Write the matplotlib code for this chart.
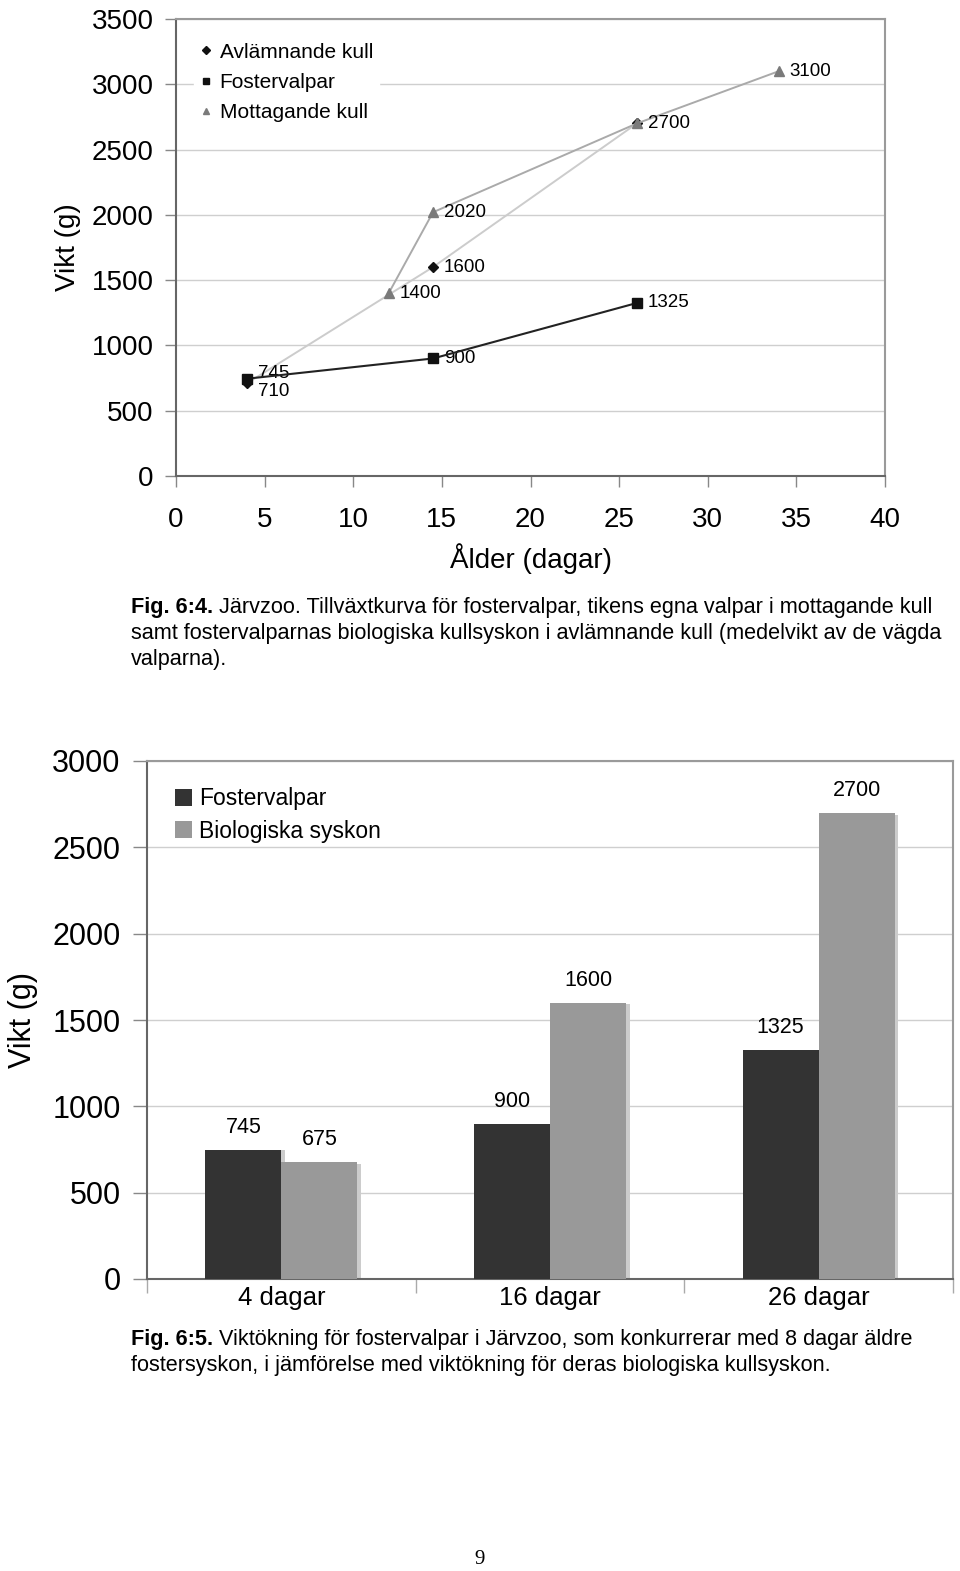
import matplotlib
matplotlib.use("Agg")
import matplotlib.pyplot as plt
from matplotlib.ticker import MultipleLocator, FixedLocator

plt.rcParams['font.family'] = ['Liberation Sans', 'DejaVu Sans']

# ---------- data: Fig 6:4 ----------
avl_days = [4, 14.5, 26]
avl_vals = [710, 1600, 2700]
fos_days = [4, 14.5, 26]
fos_vals = [745, 900, 1325]
mot_days = [12, 14.5, 26, 34]
mot_vals = [1400, 2020, 2700, 3100]
series_names = ["Avlämnande kull", "Fostervalpar", "Mottagande kull"]

# ---------- data: Fig 6:5 ----------
bar_cats = ["4 dagar", "16 dagar", "26 dagar"]
bar_foster = [745, 900, 1325]
bar_bio = [675, 1600, 2700]
bar_names = ["Fostervalpar", "Biologiska syskon"]

caption1 = [("Fig. 6:4.", " Järvzoo. Tillväxtkurva för fostervalpar, tikens egna valpar i mottagande kull"),
            ("", "samt fostervalparnas biologiska kullsyskon i avlämnande kull (medelvikt av de vägda"),
            ("", "valparna).")]
caption2 = [("Fig. 6:5.", " Viktökning för fostervalpar i Järvzoo, som konkurrerar med 8 dagar äldre"),
            ("", "fostersyskon, i jämförelse med viktökning för deras biologiska kullsyskon.")]

W, H = 960, 1571
fig = plt.figure(figsize=(W / 100, H / 100), dpi=100)

def fx(px):
    return px / W

def fy(py):
    return 1 - py / H

# ================= top chart =================
ax1 = fig.add_axes([fx(176), fy(476), fx(885 - 176), (476 - 19) / H])
ax1.set_xlim(0, 40)
ax1.set_ylim(0, 3500)
ax1.yaxis.set_major_locator(MultipleLocator(500))
ax1.xaxis.set_major_locator(MultipleLocator(5))
ax1.grid(axis='y', color='#cfcfcf', linewidth=1.0)
ax1.set_axisbelow(True)
for s in ['top', 'right']:
    ax1.spines[s].set_color('#9a9a9a')
    ax1.spines[s].set_linewidth(1.5)
for s in ['left', 'bottom']:
    ax1.spines[s].set_color('#666666')
    ax1.spines[s].set_linewidth(1.5)
ax1.tick_params(axis='both', labelsize=20, length=8, width=1, color='#888888', direction='out')
ax1.tick_params(axis='x', pad=14)
ax1.tick_params(axis='y', pad=8)

l_avl, = ax1.plot(avl_days, avl_vals, color='#cccccc', linewidth=1.4, marker='D',
                  markersize=5, markerfacecolor='#111111', markeredgecolor='#111111',
                  label=series_names[0], zorder=3)
l_fos, = ax1.plot(fos_days, fos_vals, color='#222222', linewidth=1.5, marker='s',
                  markersize=6.5, markerfacecolor='#111111', markeredgecolor='#111111',
                  label=series_names[1], zorder=4)
l_mot, = ax1.plot(mot_days, mot_vals, color='#aaaaaa', linewidth=1.4, marker='^',
                  markersize=7, markerfacecolor='#7a7a7a', markeredgecolor='#7a7a7a',
                  label=series_names[2], zorder=3)

for d, v, dy in zip(avl_days, avl_vals, [-6, 0, 0]):
    ax1.annotate(f"{v}", (d, v), xytext=(8, dy), textcoords='offset points',
                 fontsize=13.5, va='center', ha='left')
for d, v, dy in zip(fos_days, fos_vals, [4, 0, 0]):
    ax1.annotate(f"{v}", (d, v), xytext=(8, dy), textcoords='offset points',
                 fontsize=13.5, va='center', ha='left')
for d, v in zip(mot_days[:2] + mot_days[3:], mot_vals[:2] + mot_vals[3:]):
    ax1.annotate(f"{v}", (d, v), xytext=(8, 0), textcoords='offset points',
                 fontsize=13.5, va='center', ha='left')

leg1 = ax1.legend(loc='upper left', bbox_to_anchor=(0.01, 0.985), frameon=True,
                  facecolor='white', edgecolor='white', framealpha=1, fontsize=15,
                  handlelength=0.6, handletextpad=0.35, labelspacing=0.55, borderpad=0.3)
for h in leg1.legend_handles:
    h.set_linestyle('none')
    h.set_markersize(4.5)

ax1.set_ylabel("Vikt (g)", fontsize=20, labelpad=8)
ax1.set_xlabel("Ålder (dagar)", fontsize=20, labelpad=8)

# ================= captions =================
CAP_FS = 15.6

def caption(lines, y0, step=26):
    for i, (b, t) in enumerate(lines):
        y = fy(y0 + i * step)
        if b:
            tb = fig.text(fx(131), y, b, fontsize=CAP_FS, fontweight='bold', va='center', ha='left')
            fig.canvas.draw()
            bb = tb.get_window_extent()
            fig.text(bb.x1 / W, y, t, fontsize=CAP_FS, va='center', ha='left')
        else:
            fig.text(fx(131), y, t, fontsize=CAP_FS, va='center', ha='left')

# ================= bottom chart =================
ax2 = fig.add_axes([fx(147), fy(1279), fx(953 - 147), (1279 - 761) / H])
x = list(range(len(bar_cats)))
bw = 0.283
ax2.set_xlim(-0.5, len(bar_cats) - 0.5)
ax2.set_ylim(0, 3000)
ax2.yaxis.set_major_locator(MultipleLocator(500))
ax2.grid(axis='y', color='#cfcfcf', linewidth=1.0)
ax2.set_axisbelow(True)

xf = [i - bw / 2 for i in x]
xb = [i + bw / 2 for i in x]
sh = 0.014
ax2.bar([p + sh for p in xf], bar_foster, width=bw, color='#cccccc', zorder=2)
ax2.bar([p + sh for p in xb], [v - 10 for v in bar_bio], width=bw, color='#cccccc', zorder=2)
ax2.bar(xf, bar_foster, width=bw, color='#333333', label=bar_names[0], zorder=3)
ax2.bar(xb, bar_bio, width=bw, color='#999999', label=bar_names[1], zorder=3)
for p, v in zip(xf, bar_foster):
    ax2.text(p, v + 70, f"{v}", ha='center', va='bottom', fontsize=15.5)
for p, v in zip(xb, bar_bio):
    ax2.text(p, v + 70, f"{v}", ha='center', va='bottom', fontsize=15.5)

ax2.set_xticks(x)
ax2.set_xticklabels(bar_cats)
ax2.xaxis.set_minor_locator(FixedLocator([-0.5, 0.5, 1.5, 2.5]))
ax2.tick_params(axis='x', which='major', length=0, labelsize=18.5, pad=5)
ax2.tick_params(axis='x', which='minor', length=10, width=1, color='#aaaaaa', direction='out')
ax2.tick_params(axis='y', labelsize=22, length=10, width=1, color='#888888', pad=9)
for s in ['top', 'right']:
    ax2.spines[s].set_color('#9a9a9a')
    ax2.spines[s].set_linewidth(1.5)
for s in ['left', 'bottom']:
    ax2.spines[s].set_color('#666666')
    ax2.spines[s].set_linewidth(1.5)
ax2.set_ylabel("Vikt (g)", fontsize=22, labelpad=10)

leg2 = ax2.legend(loc='upper left', bbox_to_anchor=(0.015, 0.98), frameon=False,
                  fontsize=16.5, handlelength=0.75, handleheight=0.75,
                  handletextpad=0.3, labelspacing=0.4, borderpad=0.2)

caption(caption1, 608)
caption(caption2, 1340)

fig.text(0.5, fy(1560), "9", fontsize=15, ha='center', va='center',
         family=['Liberation Serif', 'DejaVu Serif'])

fig.savefig("out.png", dpi=100)
